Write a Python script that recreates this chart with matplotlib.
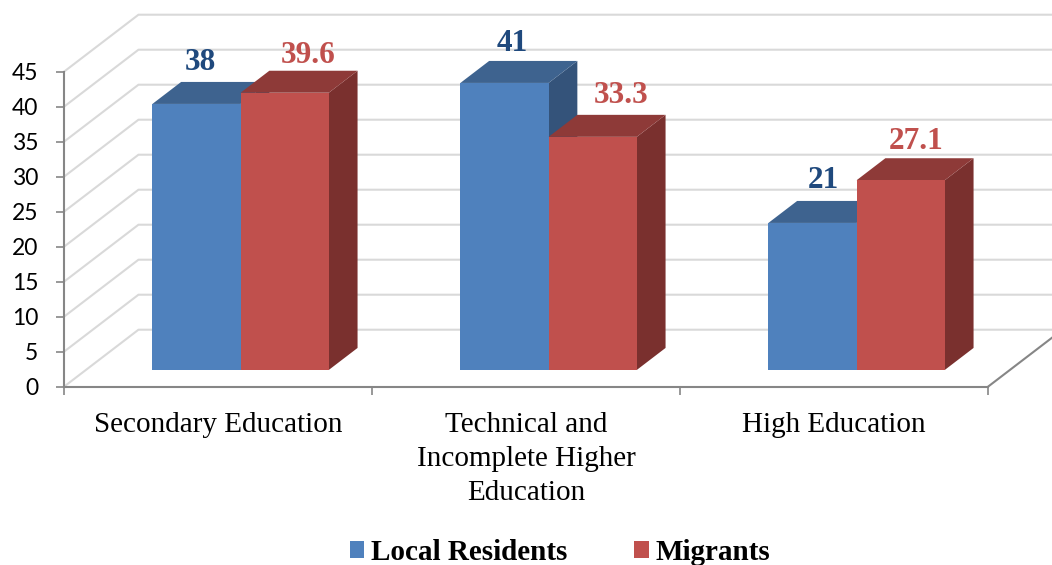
import matplotlib
matplotlib.use("Agg")
import matplotlib.pyplot as plt
from matplotlib.patches import Patch, Polygon

categories = ["Secondary Education", "Technical and\nIncomplete Higher\nEducation", "High Education"]
series_names = ["Local Residents", "Migrants"]
local_values = [38, 41, 21]
migrant_values = [39.6, 33.3, 27.1]
value_labels = [["38", "41", "21"], ["39.6", "33.3", "27.1"]]
y_ticks = [0, 5, 10, 15, 20, 25, 30, 35, 40, 45]

W, H = 1052, 565
PX_X = 308.0  # pixels for one category
PX_Y = 7.0  # pixels for one y unit
DX = 74.5 / PX_X  # full depth of the floor in data units
DY = 57.0 / PX_Y
BAR_W = 88.2 / PX_X
D_FRONT = 0.294  # bar front and back, as part of the floor depth
D_BACK = 0.68

# face, top, side
BLUE = ["#4F81BD", "#3E638F", "#34537A"]
RED = ["#C0504D", "#8E3A38", "#7A302E"]
GRID = "#D9D9D9"
AXIS = "#868686"

# label offsets from the front top centre of each bar, in pixels
LABEL_OFF = [[(4, 41), (8, 39), (11, 42)], [(23, 37), (28, 41), (15, 39)]]


def project(x, y, d):
    return x + d * DX, y + d * DY


def draw_bar(ax, x, val, colors, z):
    x1 = x + BAR_W
    front = [project(x, 0, D_FRONT), project(x1, 0, D_FRONT), project(x1, val, D_FRONT), project(x, val, D_FRONT)]
    top = [project(x, val, D_FRONT), project(x1, val, D_FRONT), project(x1, val, D_BACK), project(x, val, D_BACK)]
    side = [project(x1, 0, D_FRONT), project(x1, 0, D_BACK), project(x1, val, D_BACK), project(x1, val, D_FRONT)]
    for pts, c in [(side, colors[2]), (top, colors[1]), (front, colors[0])]:
        ax.add_patch(Polygon(pts, closed=True, facecolor=c, edgecolor="none", clip_on=False, zorder=z))


def pair_middle(i):
    # the bar pair meets here, on the floor line before projecting
    return i + 0.287 + BAR_W - D_FRONT * DX


fig = plt.figure(figsize=(W / 100, H / 100), dpi=100)
ax = fig.add_axes([64 / W, 1 - 386.7 / H, 3 * PX_X / W, 45 * PX_Y / H])
ax.set_xlim(0, 3)
ax.set_ylim(0, 45)

# back wall and left wall grid
for v in y_ticks:
    x_line = [0, DX, 3.3]
    y_line = [v, v + DY, v + DY]
    ax.plot(x_line, y_line, color=GRID, lw=1.5, clip_on=False, zorder=1)
# right edge of the floor
ax.plot([3, 3 + DX], [0, DY], color=AXIS, lw=1.5, clip_on=False, zorder=2)

for i in range(len(categories)):
    xm = pair_middle(i)
    draw_bar(ax, xm - BAR_W, local_values[i], BLUE, 3 + 2 * i)
    draw_bar(ax, xm, migrant_values[i], RED, 4 + 2 * i)

for s, (vals, col) in enumerate([(local_values, "#1F497D"), (migrant_values, "#C0504D")]):
    for i, v in enumerate(vals):
        bx, by = project(pair_middle(i) + (s - 0.5) * BAR_W, v, D_FRONT)
        ax.annotate(value_labels[s][i], xy=(bx, by), xytext=LABEL_OFF[s][i], textcoords="offset pixels",
                    ha="center", va="center", color=col, fontsize=22.5, fontweight="bold",
                    family="Liberation Serif", annotation_clip=False, zorder=20)

for name in ["top", "right"]:
    ax.spines[name].set_visible(False)
for name in ["left", "bottom"]:
    ax.spines[name].set_color(AXIS)
    ax.spines[name].set_linewidth(1.5)
    ax.spines[name].set_zorder(2)

ax.set_yticks(y_ticks)
ax.tick_params(axis="y", length=5.5, width=1.2, color=AXIS, pad=13, labelsize=16.5, labelfontfamily="Lato")
ax.set_xticks([0, 1, 2, 3])
ax.set_xticklabels([])
ax.tick_params(axis="x", which="major", length=5.8, width=1.2, color=AXIS)
ax.set_xticks([0.5, 1.5, 2.5], minor=True)
ax.set_xticklabels(categories, minor=True, family="Liberation Serif", fontsize=21, linespacing=1.4)
ax.tick_params(axis="x", which="minor", length=0, pad=18)
ax.patch.set_alpha(0)

handles = [Patch(facecolor=BLUE[0], label=series_names[0]), Patch(facecolor=RED[0], label=series_names[1])]
ax.legend(handles=handles, ncol=2, frameon=False, loc="center", bbox_to_anchor=(560 / W, 1 - 552 / H),
          bbox_transform=fig.transFigure, prop={"family": "Liberation Serif", "weight": "bold", "size": 21},
          handlelength=0.51, handleheight=0.51, handletextpad=0.24, columnspacing=2.26, borderpad=0, borderaxespad=0)

fig.savefig("out.png", dpi=100)
